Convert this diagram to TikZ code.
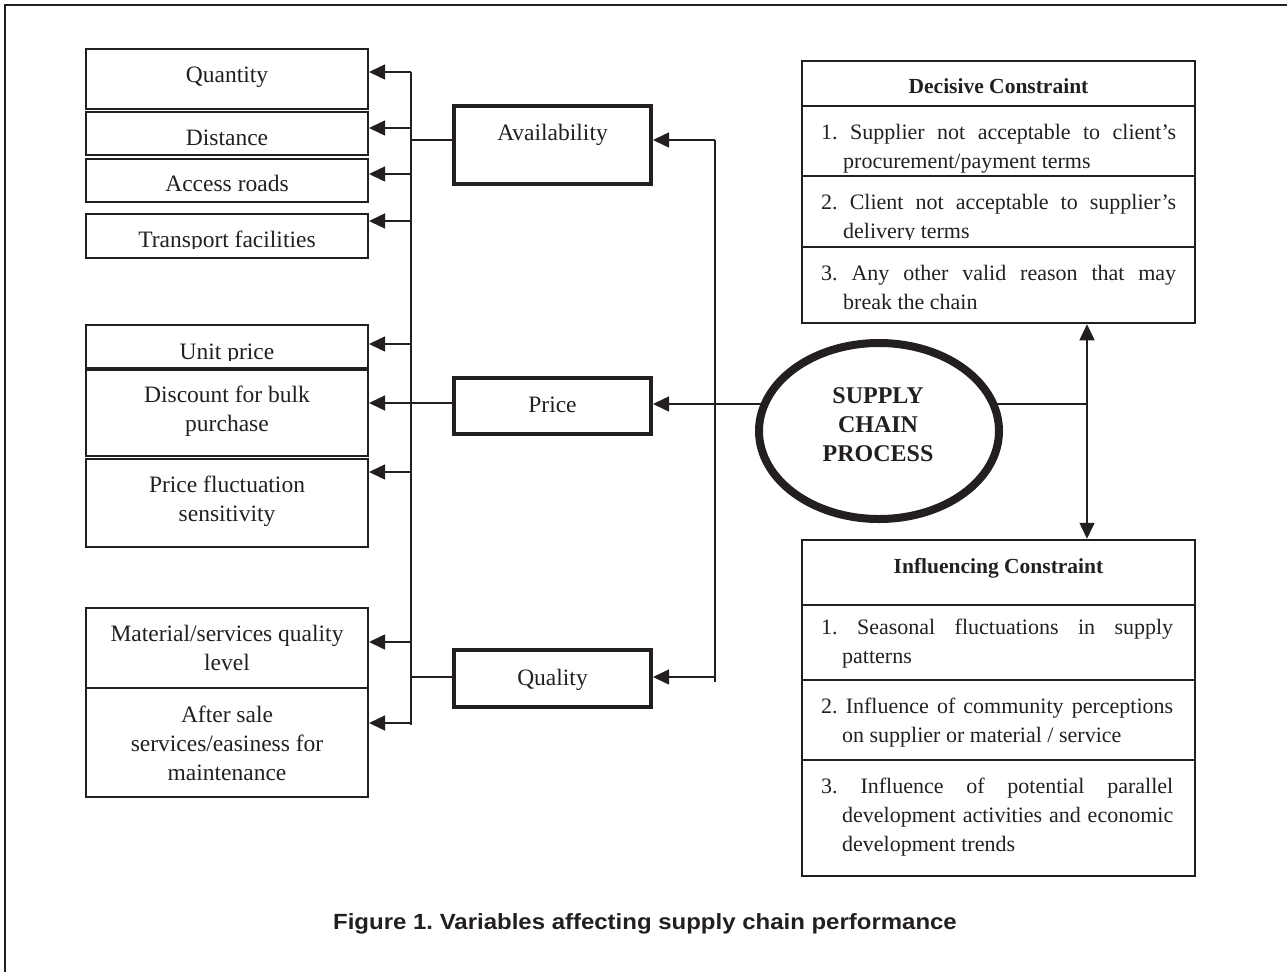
\documentclass[tikz,border=0pt]{standalone}
\usepackage{fontspec}
\setmainfont{Liberation Serif}
\setsansfont{Liberation Sans}
\usetikzlibrary{arrows.meta,backgrounds,shapes.geometric}
\definecolor{ink}{RGB}{35,31,32}
\frenchspacing
\newcommand\myitem[3]{\parbox[t]{#1}{\frenchspacing\fontsize{22}{29}\selectfont\hangindent=#2\hangafter=1 #3}}
\newcommand\mylines[1]{\begin{tabular}[t]{@{}c@{}}#1\end{tabular}}
\tikzset{
  lbox/.style={draw=ink, line width=2pt, minimum width=282pt, inner sep=0pt},
  mbox/.style={draw=ink, line width=4pt, minimum width=197pt, inner sep=0pt},
  rbox/.style={draw=ink, line width=2.5pt, minimum width=393pt, inner sep=0pt},
  conn/.style={draw=ink, line width=1.5pt},
  arr/.style={conn, -{Triangle[length=16pt,width=15pt]}},
  darr/.style={conn, {Triangle[length=16pt,width=15pt]}-{Triangle[length=16pt,width=15pt]}},
  ltxt/.style={anchor=base, inner sep=0pt, text=ink, font=\fontsize{23.5}{29}\selectfont},
  rtxt/.style={anchor=base west, inner sep=0pt, text=ink},
  ttl/.style={anchor=base, inner sep=0pt, text=ink, font=\fontsize{21.5}{26}\selectfont\bfseries},
}
\begin{document}
\begin{tikzpicture}[x=1pt,y=-1pt]
\useasboundingbox (0,0) rectangle (1287,972);
% outer frame
\draw[ink, line width=2.7pt] (5,972) -- (5,5) -- (1287,5);

% left boxes
\node[lbox, minimum height=60pt] (qty) at (227,79) {};
\node[lbox, minimum height=43pt] (dist) at (227,133.5) {};
\node[lbox, minimum height=43pt] (acc) at (227,180.5) {};
\node[lbox, minimum height=44pt] (trans) at (227,236) {};
\node[lbox, minimum height=43pt] (unit) at (227,346.5) {};
\node[lbox, minimum height=86pt] (disc) at (227,413) {};
\node[lbox, minimum height=88pt] (fluct) at (227,503) {};
\node[lbox, minimum height=80pt] (mat) at (227,648) {};
\node[lbox, minimum height=109pt] (after) at (227,742.5) {};

\node[ltxt] (tqty) at (227,82) {Quantity};
\node[ltxt] (tdist) at (227,145) {Distance};
\node[ltxt] (tacc) at (227,191.5) {Access roads};
\begin{scope}
\clip (86,214) rectangle (368,248.5);
\node[ltxt] (ttrans) at (227,247) {Transport facilities};
\end{scope}
\begin{scope}
\clip (86,325) rectangle (368,360.5);
\node[ltxt] (tunit) at (227,359) {Unit price};
\end{scope}
\node[ltxt] (tdisc) at (227,402.7) {\mylines{Discount for bulk\\purchase}};
\node[ltxt] (tfluct) at (227,492) {\mylines{Price fluctuation\\sensitivity}};
\node[ltxt] (tmat) at (227,641.7) {\mylines{Material/services quality\\level}};
\node[ltxt] (tafter) at (227,722.7) {\mylines{After sale\\services/easiness for\\maintenance}};

% middle boxes
\node[mbox, minimum height=78pt] (avail) at (552.5,145) {};
\node[mbox, minimum height=56pt] (price) at (552.5,406) {};
\node[mbox, minimum height=57pt] (quality) at (552.5,678.5) {};
\node[ltxt] (tavail) at (552.5,140) {Availability};
\node[ltxt] (tprice) at (552.5,412) {Price};
\node[ltxt] (tquality) at (552.5,685) {Quality};

% right boxes
\node[rbox, minimum height=45pt] (dect) at (998.5,83.5) {};
\node[rbox, minimum height=70pt] (dec1) at (998.5,141) {};
\node[rbox, minimum height=71pt] (dec2) at (998.5,211.5) {};
\node[rbox, minimum height=76pt] (dec3) at (998.5,285) {};
\node[rbox, minimum height=65pt] (inft) at (998.5,572.5) {};
\node[rbox, minimum height=75pt] (inf1) at (998.5,642.5) {};
\node[rbox, minimum height=80pt] (inf2) at (998.5,720) {};
\node[rbox, minimum height=116pt] (inf3) at (998.5,818) {};

\node[ttl] (tdect) at (998.5,93.3) {Decisive Constraint};
\node[rtxt] (tdec1) at (821,139.3) {\myitem{355pt}{22pt}{1. Supplier not acceptable to client’s\linebreak procurement/payment terms}};
\begin{scope}
\clip (802,176) rectangle (1195,239.8);
\node[rtxt] (tdec2) at (821,209.3) {\myitem{355pt}{22pt}{2. Client not acceptable to supplier’s\linebreak delivery terms}};
\end{scope}
\node[rtxt] (tdec3) at (821,280) {\myitem{355pt}{22pt}{3. Any other valid reason that may\linebreak break the chain}};

\node[ttl] (tinft) at (998.5,573.3) {Influencing Constraint};
\node[rtxt] (tinf1) at (821,634) {\myitem{352pt}{21pt}{1. Seasonal fluctuations in supply\linebreak patterns}};
\node[rtxt] (tinf2) at (821,713.3) {\myitem{352pt}{21pt}{2. Influence of community perceptions\linebreak on supplier or material / service}};
\node[rtxt] (tinf3) at (821,793.3) {\myitem{352pt}{21pt}{3. Influence of potential parallel\linebreak development activities and economic\linebreak development trends}};

% central ellipse
\node[ellipse, draw=ink, fill=white, line width=8pt, minimum width=240pt, minimum height=176pt, inner sep=0pt] (sc) at (879,431) {};
\node[anchor=base, inner sep=0pt, text=ink, font=\fontsize{24}{29}\selectfont\bfseries] (tsc) at (878,403.3) {\mylines{SUPPLY\\CHAIN\\PROCESS}};

% caption
\node[anchor=base, inner sep=0pt, text=ink, font=\fontsize{22}{26}\selectfont\sffamily\bfseries] (cap) at (645,929) {\scalebox{1.09}[1]{Figure 1. Variables affecting supply chain performance}};

% connectors
\coordinate (ttop) at (411,72);
\coordinate (tbot) at (411,725);
\coordinate (a1) at (411,72);
\coordinate (a2) at (411,128);
\coordinate (a3) at (411,174);
\coordinate (a4) at (411,221);
\coordinate (a5) at (411,344);
\coordinate (a6) at (411,403);
\coordinate (a7) at (411,472);
\coordinate (a8) at (411,642);
\coordinate (a9) at (411,723);
\coordinate (av) at (411,140);
\coordinate (pr) at (411,403);
\coordinate (ql) at (411,677);
\coordinate (rtop) at (715,140);
\coordinate (rbot) at (715,682);
\coordinate (rq) at (715,677);
\coordinate (jr) at (1087,404);
\begin{scope}[on background layer]
\draw[conn] (ttop) -- (tbot);
\draw[arr] (a1) -- (qty.east |- a1);
\draw[arr] (a2) -- (dist.east |- a2);
\draw[arr] (a3) -- (acc.east |- a3);
\draw[arr] (a4) -- (trans.east |- a4);
\draw[arr] (a5) -- (unit.east |- a5);
\draw[arr] (a6) -- (disc.east |- a6);
\draw[arr] (a7) -- (fluct.east |- a7);
\draw[arr] (a8) -- (mat.east |- a8);
\draw[arr] (a9) -- (after.east |- a9);
\draw[conn] (av) -- (avail.west |- av);
\draw[conn] (pr) -- (price.west |- pr);
\draw[conn] (ql) -- (quality.west |- ql);
\draw[conn] (rtop) -- (rbot);
\draw[arr] (rtop) -- (avail.east |- rtop);
\draw[arr] (rq) -- (quality.east |- rq);
\draw[arr] (sc.center |- jr) -- (price.east |- jr);
\draw[conn] (sc.center |- jr) -- (jr);
\draw[darr] (dec3.south -| jr) -- (inft.north -| jr);
\end{scope}
\end{tikzpicture}
\end{document}
